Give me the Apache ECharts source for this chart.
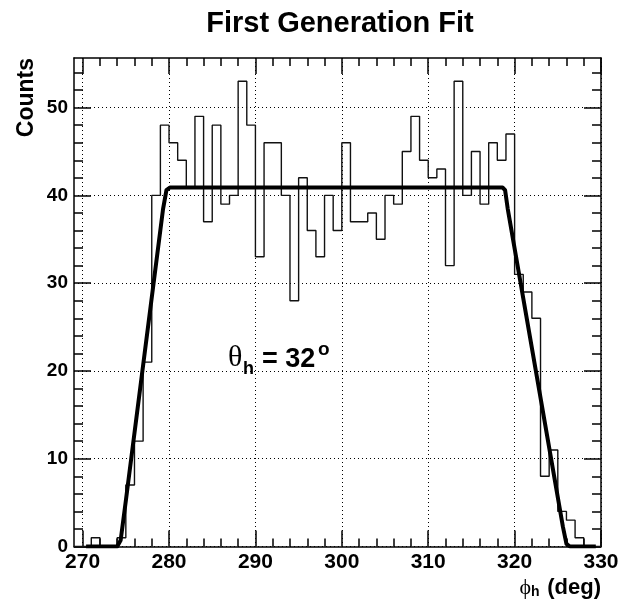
<!DOCTYPE html>
<html>
<head>
<meta charset="utf-8">
<script src="https://cdn.jsdelivr.net/npm/echarts@6/dist/echarts.min.js"></script>
<style>
  html, body { margin: 0; padding: 0; background: #fff; }
  #chart { width: 623px; height: 599px; }
</style>
</head>
<body>
<div id="chart"></div>
<script>
// Histogram: one-degree bins starting at 269 deg
const binStart = 269;
const binWidth = 1;
const counts = [
  0, 0, 1, 0, 0, 1, 7, 12, 21, 40,
  48, 46, 44, 41, 49, 37, 48, 39, 40, 53,
  48, 33, 46, 46, 40, 28, 42, 36, 33, 40,
  36, 46, 37, 37, 38, 35, 40, 39, 45, 49,
  44, 42, 43, 32, 53, 40, 45, 39, 46, 44,
  47, 31, 29, 26, 8, 11, 4, 3, 1, 0,
  0
];

// Fitted acceptance curve (phi_h, counts)
const fitPhi    = [270.4, 274.0, 274.4, 275.0, 279.3, 279.7, 280.1, 318.6, 318.9, 319.2, 325.6, 326.0, 326.4, 329.4];
const fitCounts = [0,     0,     0.7,   5.2,   38.4,  40.6,  40.9,  40.9,  40.6,  38.5,  2.2,   0.3,   0,     0];

// Axis ranges and tick positions
const xRange = [269, 330];
const yRange = [0, 55.65];
const xMajorTicks = [270, 280, 290, 300, 310, 320, 330];
const xMinorTicks = [272, 274, 276, 278, 282, 284, 286, 288, 292, 294, 296, 298,
                     302, 304, 306, 308, 312, 314, 316, 318, 322, 324, 326, 328];
const yMajorTicks = [0, 10, 20, 30, 40, 50];
const yMinorTicks = [2, 4, 6, 8, 12, 14, 16, 18, 22, 24, 26, 28, 32, 34, 36, 38,
                     42, 44, 46, 48, 52, 54];

const FONT = '"Liberation Sans", Arial, Helvetica, sans-serif';
const SERIF = '"Liberation Serif", "Times New Roman", serif';
const frameLine = { color: '#000', width: 1.5 };

// Histogram outline as a step line through the bin edges
const histData = counts.map((c, i) => [binStart + i * binWidth, c]);
histData.push([binStart + counts.length * binWidth, counts[counts.length - 1]]);

const fitData = fitPhi.map((x, i) => [x, fitCounts[i]]);

function xAxisDef(position, ticks, tickLen, withLine, withLabels) {
  return {
    type: 'value', position: position, min: xRange[0], max: xRange[1],
    axisLine: { show: withLine, onZero: false, lineStyle: frameLine },
    axisTick: { show: true, inside: true, length: tickLen, customValues: ticks, lineStyle: frameLine },
    axisLabel: withLabels ? {
      show: true, customValues: ticks, margin: 5, color: '#000',
      fontFamily: FONT, fontWeight: 'bold', fontSize: 21
    } : { show: false },
    splitLine: withLabels ? { show: true, lineStyle: { color: '#000', width: 1, type: [1, 3] } } : { show: false }
  };
}

function yAxisDef(position, ticks, tickLen, withLine, withLabels) {
  return {
    type: 'value', position: position, min: yRange[0], max: yRange[1], interval: 10,
    axisLine: { show: withLine, onZero: false, lineStyle: frameLine },
    axisTick: { show: true, inside: true, length: tickLen, customValues: ticks, lineStyle: frameLine },
    axisLabel: withLabels ? {
      show: true, customValues: ticks, margin: 6, color: '#000',
      fontFamily: FONT, fontWeight: 'bold', fontSize: 19
    } : { show: false },
    splitLine: withLabels ? { show: true, lineStyle: { color: '#000', width: 1, type: [1, 3] } } : { show: false }
  };
}

const chart = echarts.init(document.getElementById('chart'), null, { renderer: 'canvas' });

chart.setOption({
  backgroundColor: '#fff',
  animation: false,
  grid: { left: 74, right: 22, top: 58, bottom: 52.5, containLabel: false, outerBoundsMode: 'none' },
  xAxis: [
    xAxisDef('bottom', xMajorTicks, 16, true, true),
    xAxisDef('bottom', xMinorTicks, 8, false, false),
    xAxisDef('top', xMajorTicks, 16, true, false),
    xAxisDef('top', xMinorTicks, 8, false, false)
  ],
  yAxis: [
    yAxisDef('left', yMajorTicks, 17, true, true),
    yAxisDef('left', yMinorTicks, 9, false, false),
    yAxisDef('right', yMajorTicks, 17, true, false),
    yAxisDef('right', yMinorTicks, 9, false, false)
  ],
  series: [
    {
      name: 'Counts', type: 'line', xAxisIndex: 0, yAxisIndex: 0,
      data: histData, step: 'end', showSymbol: false, symbol: 'none',
      lineStyle: { color: '#111', width: 1.4 }, z: 3
    },
    {
      name: 'Fit', type: 'line', xAxisIndex: 0, yAxisIndex: 0,
      data: fitData, showSymbol: false, symbol: 'none',
      lineStyle: { color: '#000', width: 4, join: 'round' }, z: 4
    }
  ],
  graphic: [
    {
      type: 'text', x: 340, y: 24,
      style: { text: 'First Generation Fit', font: 'bold 29px ' + FONT, fill: '#000', align: 'center', verticalAlign: 'middle' }
    },
    {
      type: 'text', x: 27, y: 58, rotation: Math.PI / 2,
      style: { text: 'Counts', font: 'bold 23px ' + FONT, fill: '#000', align: 'right', verticalAlign: 'middle' }
    },
    // theta_h = 32 deg annotation
    {
      type: 'text', x: 228, y: 358,
      style: { text: 'θ', font: '30px ' + SERIF, fill: '#000', align: 'left', verticalAlign: 'middle' }
    },
    {
      type: 'text', x: 243, y: 369,
      style: { text: 'h', font: 'bold 18px ' + FONT, fill: '#000', align: 'left', verticalAlign: 'middle' }
    },
    {
      type: 'text', x: 262, y: 360,
      style: { text: '= 32', font: 'bold 27px ' + FONT, fill: '#000', align: 'left', verticalAlign: 'middle' }
    },
    {
      type: 'text', x: 318, y: 350,
      style: { text: 'o', font: 'bold 19px ' + FONT, fill: '#000', align: 'left', verticalAlign: 'middle' }
    },
    // x-axis title: phi_h (deg)
    {
      type: 'text', x: 531, y: 588,
      style: { text: 'ϕ', font: '22px ' + SERIF, fill: '#000', align: 'right', verticalAlign: 'middle' }
    },
    {
      type: 'text', x: 531, y: 592,
      style: { text: 'h', font: 'bold 14px ' + FONT, fill: '#000', align: 'left', verticalAlign: 'middle' }
    },
    {
      type: 'text', x: 601, y: 588,
      style: { text: '(deg)', font: 'bold 22px ' + FONT, fill: '#000', align: 'right', verticalAlign: 'middle' }
    }
  ]
});
</script>
</body>
</html>
